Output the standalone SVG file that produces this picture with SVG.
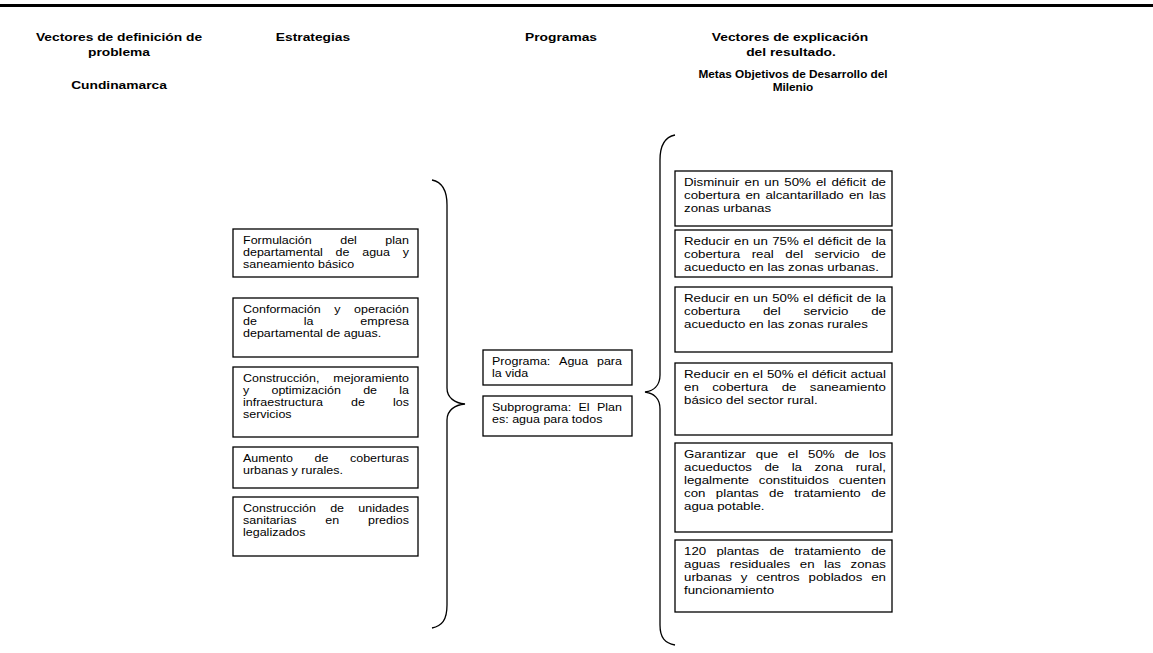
<svg xmlns="http://www.w3.org/2000/svg" width="1153" height="653" viewBox="0 0 1153 653">
<style>
.bg{fill:#fff}
.box{fill:#fff;stroke:#000;stroke-width:1.3}
.t{font-family:"Liberation Sans",Arial,sans-serif;font-size:11px;fill:#000}
.h{font-family:"Liberation Sans",Arial,sans-serif;font-size:11.5px;font-weight:bold;fill:#000;text-anchor:middle}
.hs{font-size:10px}
.brace{fill:none;stroke:#000;stroke-width:1.3}
</style>
<rect class="bg" x="0" y="0" width="1153" height="653"/>
<line x1="0" y1="5.5" x2="1153" y2="5.5" stroke="#000" stroke-width="3"/>

<g id="headers">
<text class="h" transform="translate(119 0) scale(1.2 1)" x="0" y="41">Vectores de definición de</text>
<text class="h" transform="translate(119 0) scale(1.2 1)" x="0" y="56">problema</text>
<text class="h" transform="translate(119 0) scale(1.2 1)" x="0" y="89">Cundinamarca</text>
<text class="h" transform="translate(313 0) scale(1.2 1)" x="0" y="41">Estrategias</text>
<text class="h" transform="translate(561 0) scale(1.2 1)" x="0" y="41">Programas</text>
<text class="h" transform="translate(790 0) scale(1.2 1)" x="0" y="41">Vectores de explicación</text>
<text class="h" transform="translate(791 0) scale(1.2 1)" x="0" y="56">del resultado.</text>
<text class="h hs" transform="translate(793 0) scale(1.18 1)" x="0" y="78">Metas Objetivos de Desarrollo del</text>
<text class="h hs" transform="translate(793 0) scale(1.18 1)" x="0" y="91">Milenio</text>
</g>

<g id="connectors">
<path class="brace" d="M432,180 C442,182 447,190 447,205 L447,388 C447,398 455,403 465,404 C455,405 447,410 447,420 L447,605 C447,620 442,626 432,628"/>
<path class="brace" d="M675,135 C665,137 660,145 660,160 L660,375 C660,386 653,391 645,392 C653,393 660,398 660,409 L660,625 C660,638 665,643 675,645"/>
</g>

<g id="estrategia1">
<rect class="box" x="233" y="229" width="185" height="48"/>
<g transform="translate(243 0) scale(1.13636 1)">
<text class="t" y="244.5"><tspan x="0">Formulación</tspan><tspan x="85.57">del</tspan><tspan x="125.29">plan</tspan></text>
<text class="t" y="256.5"><tspan x="0">departamental</tspan><tspan x="81.5">de</tspan><tspan x="104.92">agua</tspan><tspan x="140.58">y</tspan></text>
<text class="t" x="0" y="268.5">saneamiento básico</text>
</g>
</g>

<g id="estrategia2">
<rect class="box" x="233" y="298" width="185" height="59"/>
<g transform="translate(243 0) scale(1.13636 1)">
<text class="t" y="313.5"><tspan x="0">Conformación</tspan><tspan x="80.37">y</tspan><tspan x="97.78">operación</tspan></text>
<text class="t" y="325.5"><tspan x="0">de</tspan><tspan x="53.48">la</tspan><tspan x="103.29">empresa</tspan></text>
<text class="t" x="0" y="337.5">departamental de aguas.</text>
</g>
</g>

<g id="estrategia3">
<rect class="box" x="233" y="367" width="185" height="70"/>
<g transform="translate(243 0) scale(1.13636 1)">
<text class="t" y="382.5"><tspan x="0">Construcción,</tspan><tspan x="79.45">mejoramiento</tspan></text>
<text class="t" y="394.5"><tspan x="0">y</tspan><tspan x="25.05">optimización</tspan><tspan x="105.73">de</tspan><tspan x="137.52">la</tspan></text>
<text class="t" y="406.5"><tspan x="0">infraestructura</tspan><tspan x="95.05">de</tspan><tspan x="132.02">los</tspan></text>
<text class="t" x="0" y="418.5">servicios</text>
</g>
</g>

<g id="estrategia4">
<rect class="box" x="233" y="447" width="185" height="41"/>
<g transform="translate(243 0) scale(1.13636 1)">
<text class="t" y="462.5"><tspan x="0">Aumento</tspan><tspan x="62.96">de</tspan><tspan x="94.12">coberturas</tspan></text>
<text class="t" x="0" y="474.5">urbanas y rurales.</text>
</g>
</g>

<g id="estrategia5">
<rect class="box" x="233" y="497" width="185" height="59"/>
<g transform="translate(243 0) scale(1.13636 1)">
<text class="t" y="512.5"><tspan x="0">Construcción</tspan><tspan x="76.7">de</tspan><tspan x="101.44">unidades</tspan></text>
<text class="t" y="524.5"><tspan x="0">sanitarias</tspan><tspan x="72.43">en</tspan><tspan x="110.01">predios</tspan></text>
<text class="t" x="0" y="536.5">legalizados</text>
</g>
</g>

<g id="programa">
<rect class="box" x="483" y="350" width="149" height="35"/>
<g transform="translate(492 0) scale(1.13636 1)">
<text class="t" y="365"><tspan x="0">Programa:</tspan><tspan x="59.03">Agua</tspan><tspan x="92.39">para</tspan></text>
<text class="t" x="0" y="377.5">la vida</text>
</g>
</g>

<g id="subprograma">
<rect class="box" x="483" y="396" width="149" height="40"/>
<g transform="translate(492 0) scale(1.13636 1)">
<text class="t" y="411"><tspan x="0">Subprograma:</tspan><tspan x="76.16">El</tspan><tspan x="92.39">Plan</tspan></text>
<text class="t" x="0" y="423.5">es: agua para todos</text>
</g>
</g>

<g id="meta1">
<rect class="box" x="675" y="171" width="217" height="55"/>
<g transform="translate(684 0) scale(1.20909 1)">
<text class="t" y="186.5"><tspan x="0">Disminuir</tspan><tspan x="50.04">en</tspan><tspan x="66.48">un</tspan><tspan x="82.92">50%</tspan><tspan x="109.14">el</tspan><tspan x="121.91">déficit</tspan><tspan x="154.84">de</tspan></text>
<text class="t" y="199.5"><tspan x="0">cobertura</tspan><tspan x="50.78">en</tspan><tspan x="67.33">alcantarillado</tspan><tspan x="136.45">en</tspan><tspan x="153.01">las</tspan></text>
<text class="t" x="0" y="212.5">zonas urbanas</text>
</g>
</g>

<g id="meta2">
<rect class="box" x="675" y="230" width="217" height="47"/>
<g transform="translate(684 0) scale(1.20909 1)">
<text class="t" y="245.5"><tspan x="0">Reducir</tspan><tspan x="41.42">en</tspan><tspan x="57.17">un</tspan><tspan x="72.92">75%</tspan><tspan x="98.45">el</tspan><tspan x="110.53">déficit</tspan><tspan x="142.78">de</tspan><tspan x="158.51">la</tspan></text>
<text class="t" y="258.5"><tspan x="0">cobertura</tspan><tspan x="55.98">real</tspan><tspan x="83.84">del</tspan><tspan x="108.03">servicio</tspan><tspan x="154.84">de</tspan></text>
<text class="t" x="0" y="271.5">acueducto en las zonas urbanas.</text>
</g>
</g>

<g id="meta3">
<rect class="box" x="675" y="287" width="217" height="65"/>
<g transform="translate(684 0) scale(1.20909 1)">
<text class="t" y="302.5"><tspan x="0">Reducir</tspan><tspan x="41.42">en</tspan><tspan x="57.17">un</tspan><tspan x="72.92">50%</tspan><tspan x="98.45">el</tspan><tspan x="110.53">déficit</tspan><tspan x="142.78">de</tspan><tspan x="158.51">la</tspan></text>
<text class="t" y="315.5"><tspan x="0">cobertura</tspan><tspan x="65.27">del</tspan><tspan x="98.75">servicio</tspan><tspan x="154.84">de</tspan></text>
<text class="t" x="0" y="328.5">acueducto en las zonas rurales</text>
</g>
</g>

<g id="meta4">
<rect class="box" x="675" y="363" width="217" height="72"/>
<g transform="translate(684 0) scale(1.20909 1)">
<text class="t" y="378.5"><tspan x="0">Reducir</tspan><tspan x="41.19">en</tspan><tspan x="56.71">el</tspan><tspan x="68.56">50%</tspan><tspan x="93.86">el</tspan><tspan x="105.71">déficit</tspan><tspan x="137.72">actual</tspan></text>
<text class="t" y="391.5"><tspan x="0">en</tspan><tspan x="23.29">cobertura</tspan><tspan x="80.81">de</tspan><tspan x="104.09">saneamiento</tspan></text>
<text class="t" x="0" y="404.5">básico del sector rural.</text>
</g>
</g>

<g id="meta5">
<rect class="box" x="675" y="443" width="217" height="89"/>
<g transform="translate(684 0) scale(1.20909 1)">
<text class="t" y="458.5"><tspan x="0">Garantizar</tspan><tspan x="59.45">que</tspan><tspan x="85.9">el</tspan><tspan x="102.56">50%</tspan><tspan x="132.67">de</tspan><tspan x="153.01">los</tspan></text>
<text class="t" y="471.5"><tspan x="0">acueductos</tspan><tspan x="66.53">de</tspan><tspan x="89.04">la</tspan><tspan x="107.88">zona</tspan><tspan x="142.01">rural,</tspan></text>
<text class="t" y="484.5"><tspan x="0">legalmente</tspan><tspan x="61.83">constituidos</tspan><tspan x="127.93">cuenten</tspan></text>
<text class="t" y="497.5"><tspan x="0">con</tspan><tspan x="26.33">plantas</tspan><tspan x="70.39">de</tspan><tspan x="91.22">tratamiento</tspan><tspan x="154.84">de</tspan></text>
<text class="t" x="0" y="510.5">agua potable.</text>
</g>
</g>

<g id="meta6">
<rect class="box" x="675" y="540" width="217" height="72"/>
<g transform="translate(684 0) scale(1.20909 1)">
<text class="t" y="555.5"><tspan x="0">120</tspan><tspan x="26.8">plantas</tspan><tspan x="70.71">de</tspan><tspan x="91.38">tratamiento</tspan><tspan x="154.84">de</tspan></text>
<text class="t" y="568.5"><tspan x="0">aguas</tspan><tspan x="37.8">residuales</tspan><tspan x="95.77">en</tspan><tspan x="115.83">las</tspan><tspan x="137.72">zonas</tspan></text>
<text class="t" y="581.5"><tspan x="0">urbanas</tspan><tspan x="46.96">y</tspan><tspan x="59.68">centros</tspan><tspan x="102.97">poblados</tspan><tspan x="154.84">en</tspan></text>
<text class="t" x="0" y="594.5">funcionamiento</text>
</g>
</g>
</svg>
